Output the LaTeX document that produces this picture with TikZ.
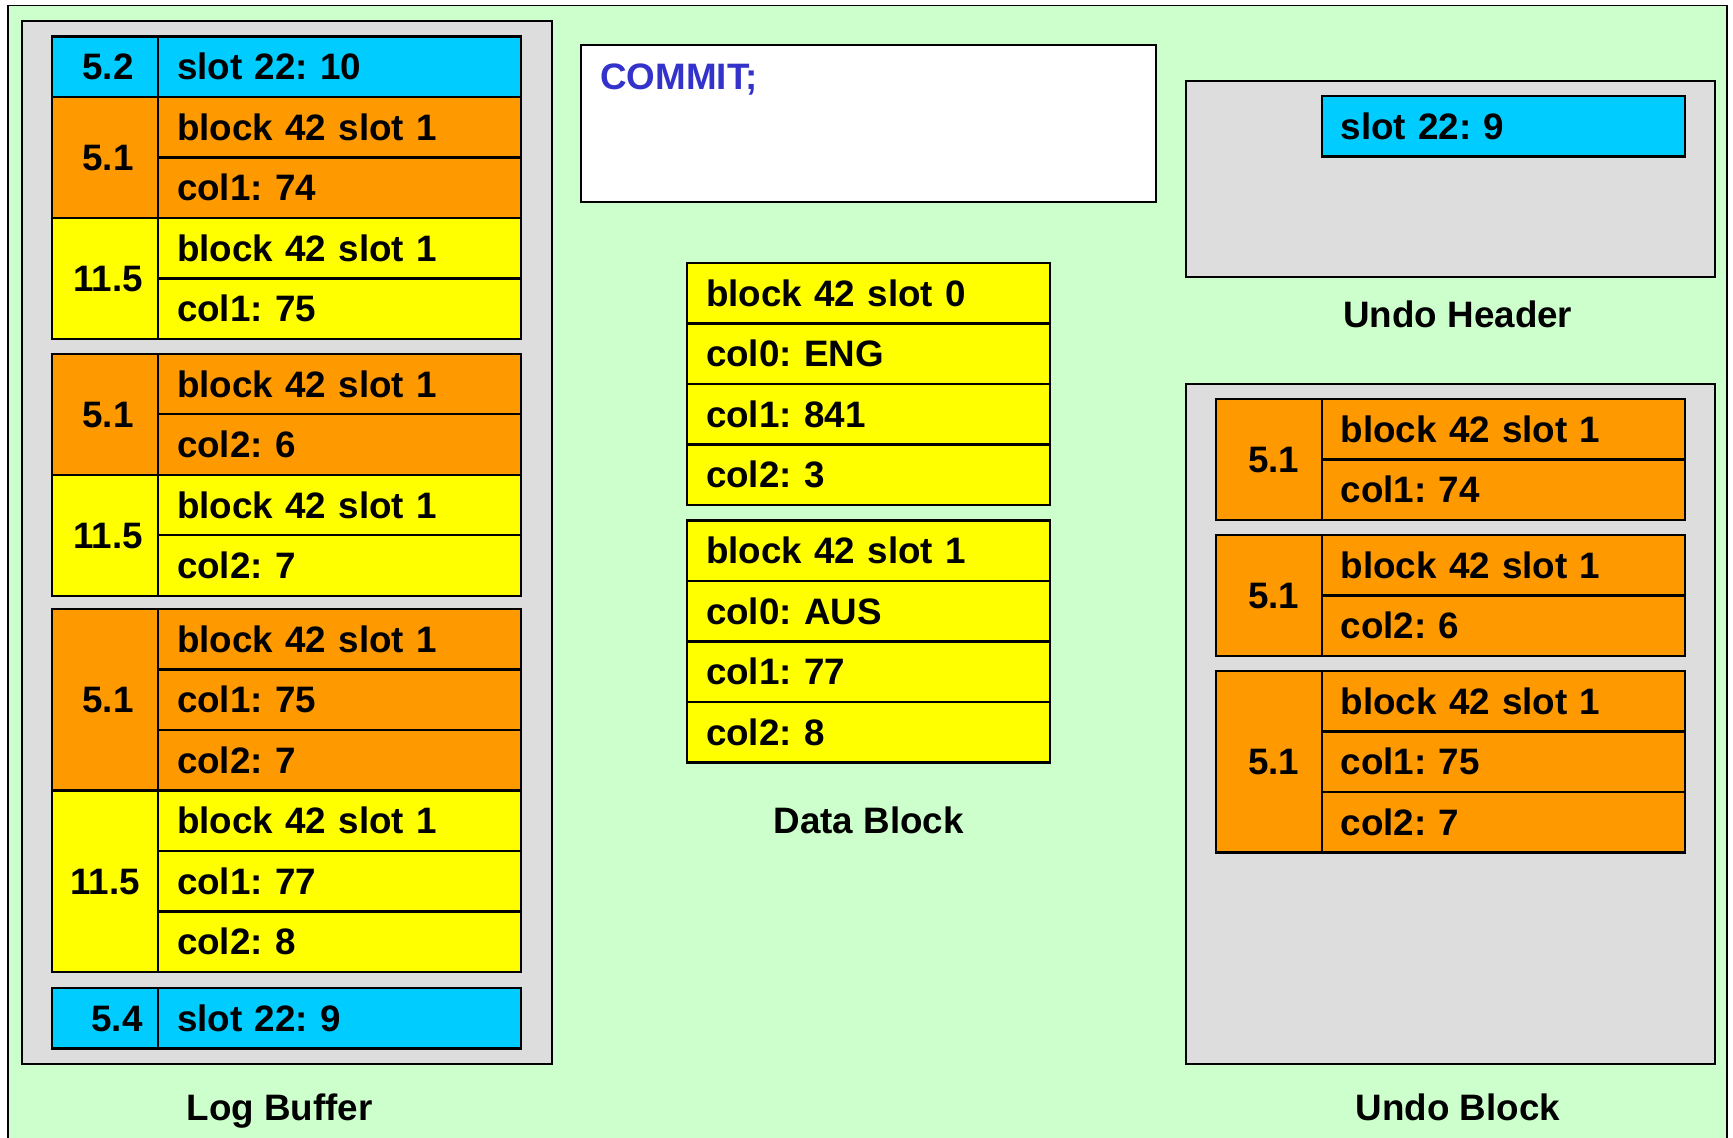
\documentclass[tikz,border=0pt]{standalone}
\usepackage{fontspec}
\setmainfont{Liberation Sans}
\usetikzlibrary{positioning}
\frenchspacing

\definecolor{bggreen}{HTML}{CCFFCC}
\definecolor{panelgray}{HTML}{DDDDDD}
\definecolor{slotblue}{HTML}{00CCFF}
\definecolor{undoorange}{HTML}{FF9900}
\definecolor{redoyellow}{HTML}{FFFF00}
\definecolor{commitblue}{HTML}{3333CC}
\newcommand{\cellfont}{\bfseries\fontsize{18.4}{22}\selectfont}

\begin{document}
\begin{tikzpicture}[x=0.5pt,y=-0.5pt]
\tikzset{panel/.style = {shape=rectangle,draw,line width=1pt,fill=panelgray,outer sep=0pt,inner sep=0pt,anchor=north west}}
\tikzset{cell/.style = {shape=rectangle,draw,line width=1.2pt,outer sep=0pt,inner xsep=9.5pt,inner ysep=0pt,minimum height=30.25pt,text width=162.5pt,align=left,text height=13.2pt,text depth=0pt,font=\cellfont}}
\tikzset{numcell/.style = {shape=rectangle,draw,line width=1.2pt,outer sep=0pt,inner sep=0pt,minimum width=53pt,minimum height=#1*30.25pt,text height=13.2pt,text depth=0pt,font=\cellfont,anchor=north west}, numcell/.default=1}
\tikzset{title/.style = {anchor=base,font=\cellfont}}
\useasboundingbox (0,0) rectangle (1733,1137);
% background
\fill[bggreen] (7.7,5.5) rectangle (1727,1140);
\draw[line width=0.8pt] (7.7,1140) -- (7.7,5.5) -- (1727,5.5) -- (1727,1140);

% log buffer
\node[panel,minimum width=264.75pt,minimum height=521.5pt] (logbuf) at (22,21) {};
\node[title] (logbuflab) at (279.6,1120) {Log Buffer};

\node[numcell,fill=slotblue] (lb1n) at (52,36.5) {\hspace*{3pt}5.2};
\node[cell,fill=slotblue,anchor=north west] (lb1a) at (lb1n.north east) {slot 22: 10};

\node[numcell=2,fill=undoorange,below=0pt of lb1n] (lb2n) {\hspace*{3pt}5.1};
\node[cell,fill=undoorange,anchor=north west] (lb2a) at (lb2n.north east) {block 42 slot 1};
\node[cell,fill=undoorange,below=0pt of lb2a] (lb2b) {col1: 74};
\node[numcell=2,fill=redoyellow,below=0pt of lb2n] (lb3n) {\hspace*{3pt}11.5};
\node[cell,fill=redoyellow,anchor=north west] (lb3a) at (lb3n.north east) {block 42 slot 1};
\node[cell,fill=redoyellow,below=0pt of lb3a] (lb3b) {col1: 75};

\node[numcell=2,fill=undoorange] (lb4n) at (52,353.7) {\hspace*{3pt}5.1};
\node[cell,fill=undoorange,anchor=north west] (lb4a) at (lb4n.north east) {block 42 slot 1};
\node[cell,fill=undoorange,below=0pt of lb4a] (lb4b) {col2: 6};
\node[numcell=2,fill=redoyellow,below=0pt of lb4n] (lb5n) {\hspace*{3pt}11.5};
\node[cell,fill=redoyellow,anchor=north west] (lb5a) at (lb5n.north east) {block 42 slot 1};
\node[cell,fill=redoyellow,below=0pt of lb5a] (lb5b) {col2: 7};

\node[numcell=3,fill=undoorange] (lb6n) at (52,609) {\hspace*{3pt}5.1};
\node[cell,fill=undoorange,anchor=north west] (lb6a) at (lb6n.north east) {block 42 slot 1};
\node[cell,fill=undoorange,below=0pt of lb6a] (lb6b) {col1: 75};
\node[cell,fill=undoorange,below=0pt of lb6b] (lb6c) {col2: 7};
\node[numcell=3,fill=redoyellow,below=0pt of lb6n] (lb7n) {11.5};
\node[cell,fill=redoyellow,anchor=north west] (lb7a) at (lb7n.north east) {block 42 slot 1};
\node[cell,fill=redoyellow,below=0pt of lb7a] (lb7b) {col1: 77};
\node[cell,fill=redoyellow,below=0pt of lb7b] (lb7c) {col2: 8};

\node[numcell,fill=slotblue] (lb8n) at (52,988) {\hspace*{12pt}5.4};
\node[cell,fill=slotblue,anchor=north west] (lb8a) at (lb8n.north east) {slot 22: 9};

% commit statement
\node[shape=rectangle,draw,line width=1.2pt,fill=white,outer sep=0pt,minimum width=287.5pt,minimum height=78.5pt,anchor=north west] (commitbox) at (581,45) {};
\node[anchor=base west,inner sep=0pt,font=\cellfont,text=commitblue] (committxt) at (600,89) {COMMIT;};

% data block
\node[cell,fill=redoyellow,anchor=north west] (db0a) at (687,263) {block 42 slot 0};
\node[cell,fill=redoyellow,below=0pt of db0a] (db0b) {col0: ENG};
\node[cell,fill=redoyellow,below=0pt of db0b] (db0c) {col1: 841};
\node[cell,fill=redoyellow,below=0pt of db0c] (db0d) {col2: 3};
\node[cell,fill=redoyellow,anchor=north west] (db1a) at (687,520.5) {block 42 slot 1};
\node[cell,fill=redoyellow,below=0pt of db1a] (db1b) {col0: AUS};
\node[cell,fill=redoyellow,below=0pt of db1b] (db1c) {col1: 77};
\node[cell,fill=redoyellow,below=0pt of db1c] (db1d) {col2: 8};
\node[title] (datablklab) at (868.7,833) {Data Block};

% undo header
\node[panel,minimum width=264.5pt,minimum height=98.35pt] (undohdr) at (1186,80.7) {};
\node[cell,fill=slotblue,anchor=north west] (uh1) at (1321.8,96) {slot 22: 9};
\node[title] (undohdrlab) at (1457.8,327) {Undo Header};

% undo block
\node[panel,minimum width=264.5pt,minimum height=340.25pt] (undoblk) at (1186,383.5) {};
\node[title] (undoblklab) at (1457.8,1120) {Undo Block};

\node[numcell=2,fill=undoorange] (ub1n) at (1215.7,399) {\hspace*{5pt}5.1};
\node[cell,fill=undoorange,anchor=north west] (ub1a) at (ub1n.north east) {block 42 slot 1};
\node[cell,fill=undoorange,below=0pt of ub1a] (ub1b) {col1: 74};

\node[numcell=2,fill=undoorange] (ub2n) at (1215.7,535) {\hspace*{5pt}5.1};
\node[cell,fill=undoorange,anchor=north west] (ub2a) at (ub2n.north east) {block 42 slot 1};
\node[cell,fill=undoorange,below=0pt of ub2a] (ub2b) {col2: 6};

\node[numcell=3,fill=undoorange] (ub3n) at (1215.7,670.8) {\hspace*{5pt}5.1};
\node[cell,fill=undoorange,anchor=north west] (ub3a) at (ub3n.north east) {block 42 slot 1};
\node[cell,fill=undoorange,below=0pt of ub3a] (ub3b) {col1: 75};
\node[cell,fill=undoorange,below=0pt of ub3b] (ub3c) {col2: 7};
\end{tikzpicture}
\end{document}
